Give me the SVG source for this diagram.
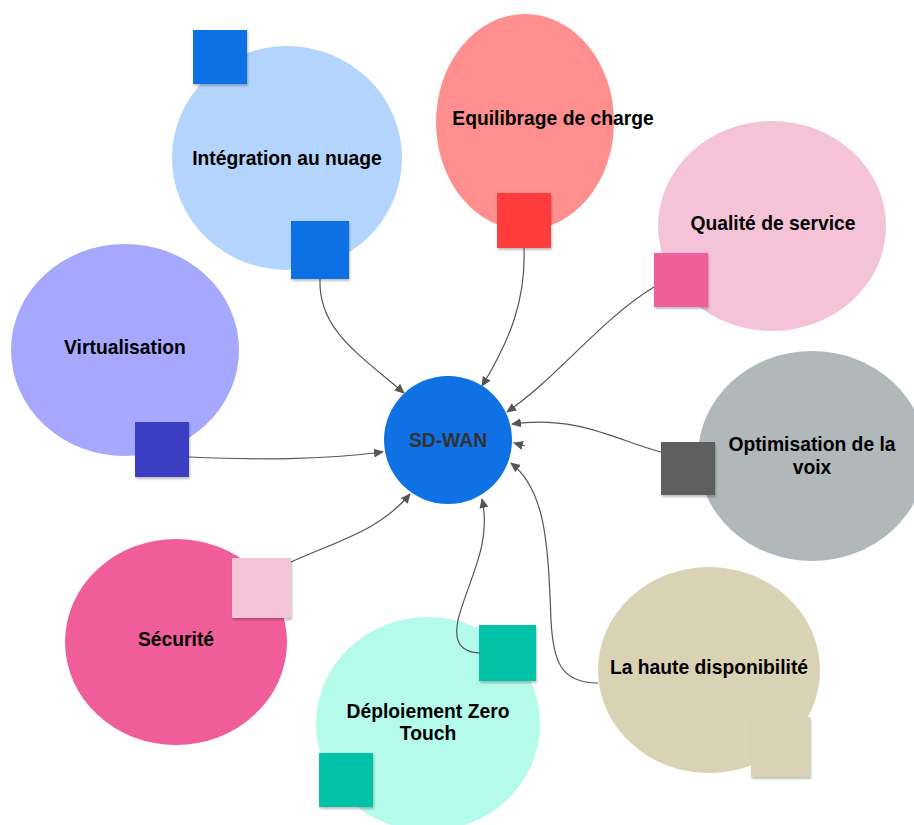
<svg xmlns="http://www.w3.org/2000/svg" width="914" height="825" viewBox="0 0 914 825">
<defs>
<style>
.lbl{font-family:"Liberation Sans",Arial,sans-serif;font-weight:bold;font-size:19.3px;fill:#000;text-anchor:middle}
.hub{font-family:"Liberation Sans",Arial,sans-serif;font-weight:bold;font-size:19.3px;fill:#333;text-anchor:middle}
.sq{filter:url(#sh)}
.con path{fill:none;stroke:#555;stroke-width:1.2;marker-end:url(#arr)}
</style>
<filter id="sh" x="-20%" y="-20%" width="150%" height="150%">
<feDropShadow dx="1" dy="2" stdDeviation="1.2" flood-color="#000" flood-opacity="0.25"/>
</filter>
<marker id="arr" viewBox="0 0 10 10" refX="9" refY="5" markerWidth="10" markerHeight="10" markerUnits="userSpaceOnUse" orient="auto">
<path d="M0,0.5 L10,5 L0,9.5 Z" fill="#555"/>
</marker>
</defs>
<rect width="914" height="825" fill="#fff"/>

<g id="integration">
<ellipse cx="287" cy="158" rx="115" ry="112" fill="#B3D5FD"/>
<rect class="sq" x="193" y="30" width="54" height="54" fill="#1071E5"/>
<rect class="sq" x="291" y="221" width="58" height="58" fill="#1071E5"/>
<text class="lbl" x="287" y="165">Intégration au nuage</text>
</g>

<g id="equilibrage">
<ellipse cx="525" cy="122" rx="89" ry="108" fill="#FF8F8F"/>
<rect class="sq" x="497" y="193" width="54" height="55" fill="#FF3E3E"/>
<text class="lbl" x="553" y="125">Equilibrage de charge</text>
</g>

<g id="qualite">
<ellipse cx="772" cy="226" rx="114" ry="105" fill="#F5C3D8"/>
<rect class="sq" x="654" y="253" width="54" height="54" fill="#EE5E9B"/>
<text class="lbl" x="773" y="230">Qualité de service</text>
</g>

<g id="optimisation">
<ellipse cx="812" cy="456" rx="114" ry="105" fill="#B1B8BA"/>
<rect class="sq" x="661" y="442" width="54" height="53" fill="#5F5F5F"/>
<text class="lbl" x="812" y="451">Optimisation de la</text>
<text class="lbl" x="812" y="474">voix</text>
</g>

<g id="virtualisation">
<ellipse cx="125" cy="350" rx="114" ry="106" fill="#A5A8FC"/>
<rect class="sq" x="135" y="422" width="54" height="55" fill="#3A3EC2"/>
<text class="lbl" x="125" y="354">Virtualisation</text>
</g>

<g id="securite">
<ellipse cx="176" cy="642" rx="111" ry="103" fill="#EF5E9B"/>
<rect class="sq" x="232" y="558" width="59" height="60" fill="#F5C3D8"/>
<text class="lbl" x="176" y="646">Sécurité</text>
</g>

<g id="deploiement">
<ellipse cx="428" cy="724" rx="112" ry="107" fill="#B5FBEB"/>
<rect class="sq" x="479" y="625" width="57" height="56" fill="#00C2A8"/>
<rect class="sq" x="319" y="753" width="54" height="54" fill="#00C2A8"/>
<text class="lbl" x="428" y="718">Déploiement Zero</text>
<text class="lbl" x="428" y="740">Touch</text>
</g>

<g id="haute-dispo">
<ellipse cx="709" cy="670" rx="111" ry="103" fill="#D9D2B4"/>
<rect class="sq" x="751" y="717" width="59" height="60" fill="#D9D2B4"/>
<text class="lbl" x="709" y="674">La haute disponibilité</text>
</g>

<g id="connectors" class="con">
<path d="M320,279 C318,330 360,355 404,393"/>
<path d="M524,248 C526,300 510,340 482,386"/>
<path d="M654,287 C600,320 560,375 507,412"/>
<path d="M661,452 C620,442 580,415 512,424"/>
<path d="M525,446 L514,443"/>
<path d="M598,683 C560,683 553,660 551,620 C548,540 545,490 511,463"/>
<path d="M480,653 C455,652 455,635 458,620 C468,580 492,545 482,499"/>
<path d="M291,562 C340,540 380,530 410,494"/>
<path d="M189,457 C260,460 320,460 383,452"/>
</g>

<g id="sdwan">
<circle cx="448" cy="440" r="64" fill="#1071E5"/>
<text class="hub" x="448" y="447">SD-WAN</text>
</g>
</svg>
